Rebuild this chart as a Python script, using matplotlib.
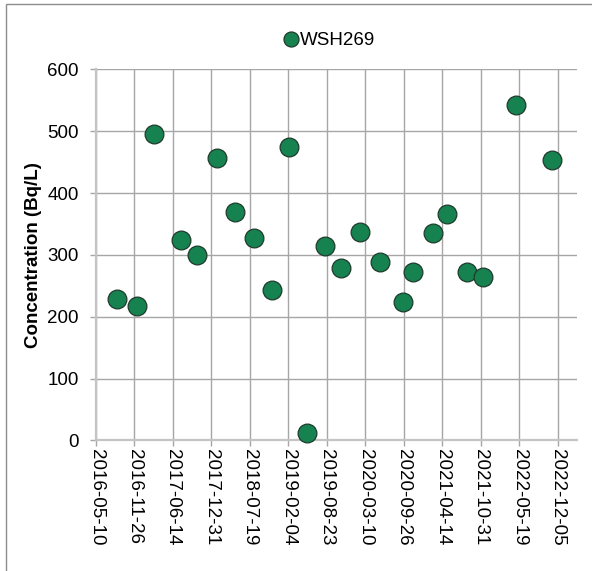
import matplotlib
matplotlib.use("Agg")
import matplotlib.pyplot as plt
import matplotlib.dates as mdates
import matplotlib.patches as mpatches
import pandas as pd

plt.rcParams['font.family'] = ['Liberation Sans', 'DejaVu Sans']

series_name = "WSH269"
dates = ["2016-08-28", "2016-12-07", "2017-03-07", "2017-07-24", "2017-10-18",
         "2018-01-29", "2018-04-30", "2018-08-09", "2018-11-09", "2019-02-08",
         "2019-05-13", "2019-08-15", "2019-11-04", "2020-02-10", "2020-05-24",
         "2020-09-23", "2020-11-15", "2021-02-22", "2021-05-09", "2021-08-18",
         "2021-11-14", "2022-05-04", "2022-11-04"]
values = [229, 217, 496, 324, 300,
          457, 369, 327, 244, 475,
          12, 315, 279, 337, 289,
          224, 273, 336, 366, 273,
          264, 543, 453]
x_tick_labels = ["2016-05-10", "2016-11-26", "2017-06-14", "2017-12-31", "2018-07-19",
                 "2019-02-04", "2019-08-23", "2020-03-10", "2020-09-26", "2021-04-14",
                 "2021-10-31", "2022-05-19", "2022-12-05"]
y_ticks = [0, 100, 200, 300, 400, 500, 600]
x_min, x_max = "2016-05-10", "2023-03-15"
y_label = "Concentration (Bq/L)"

W, H, DPI = 592, 571, 100
fig = plt.figure(figsize=(W / DPI, H / DPI), dpi=DPI)
ax = fig.add_axes([96 / W, 1 - 440.3 / H, (577 - 96) / W, (440.3 - 69.5) / H])

xd = pd.to_datetime(dates)
ax.plot(xd, values, linestyle='none', marker='o', markersize=13.5,
        markerfacecolor='#16824f', markeredgecolor='#1e3b2c', markeredgewidth=0.9,
        label=series_name, zorder=3, clip_on=False)

tick_pos = pd.to_datetime(x_tick_labels)
ax.set_xticks(tick_pos)
ax.set_xticklabels(x_tick_labels, rotation=-90, fontsize=13.5)
ax.set_xlim(pd.Timestamp(x_min), pd.Timestamp(x_max))
ax.set_ylim(0, 600)
ax.set_yticks(y_ticks)
ax.set_yticklabels([str(v) for v in y_ticks], fontsize=13.5)

ax.grid(True, color='#a6a6a6', linewidth=1.0)
ax.set_axisbelow(True)
for s in ['top', 'right']:
    ax.spines[s].set_visible(False)
ax.spines['bottom'].set_color('#c4c4c4')
ax.spines['bottom'].set_linewidth(1.6)
ax.spines['left'].set_color('#c4c4c4')
ax.spines['left'].set_linewidth(1.6)
ax.tick_params(axis='y', length=4.3, width=1.0, color='#a6a6a6', pad=8)
ax.tick_params(axis='x', length=4.3, width=1.0, color='#a6a6a6', pad=2)

ax.set_ylabel(y_label, fontsize=13.5, fontweight='bold', labelpad=4)

fig.legend(loc='center', bbox_to_anchor=(0.555, 1 - 40.5 / H), frameon=False,
           fontsize=13.5, markerscale=0.8, handletextpad=0.0, handlelength=1.0,
           borderpad=0)

border = mpatches.Rectangle((6.3 / W, -0.1), 2, 1 - 4.3 / H + 0.1,
                            transform=fig.transFigure, fill=False,
                            edgecolor='#8c8c8c', linewidth=1.0)
fig.patches.append(border)

fig.savefig("out.png", dpi=DPI)
